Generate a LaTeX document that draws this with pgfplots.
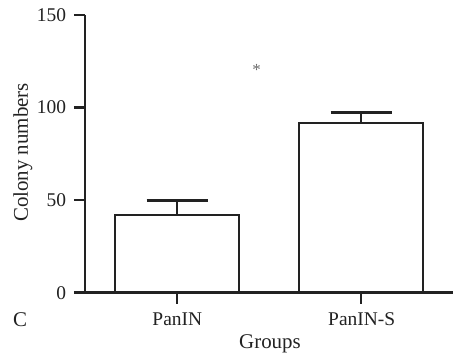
\documentclass[border=0pt]{standalone}
\usepackage{fontspec}
\setmainfont{Liberation Serif}
\usepackage{pgfplots}
\pgfplotsset{compat=1.18}
\definecolor{ink}{HTML}{222222}
\definecolor{star}{HTML}{6A6A6A}
\begin{document}
\begin{tikzpicture}[x=1bp,y=1bp]
\useasboundingbox (-85,-66.3) rectangle (373,292.7);
\begin{axis}[
  at={(0,0)}, anchor=south west,
  scale only axis, width=368bp, height=277.7bp,
  xmin=-0.5, xmax=1.5, ymin=0, ymax=150,
  axis lines*=left,
  axis line style={ink, line width=2.6bp},
  major tick style={ink, line width=2.6bp},
  major x tick style={ink, line width=2.6bp},
  major y tick style={ink, line width=2.6bp},
  tick align=outside, major tick length=11bp,
  xtick={0,1}, xticklabels={}, ytick={0,50,100,150},
  /pgf/number format/assume math mode=true,
  tick label style={font=\fontsize{19.5}{22}\selectfont, text=ink},
  yticklabel style={xshift=-4.5bp},
  clip=false,
]
\addplot[ybar, bar width=124bp, bar shift=0pt, draw=ink, fill=white, line width=2.5bp,
  error bars/.cd, y dir=plus, y explicit,
  error bar style={ink, line width=2.5bp},
  error mark options={ink, line width=2.5bp, mark size=30.5bp, rotate=90}]
  coordinates {(0,42) +- (0,7.8) (1,91.8) +- (0,5.5)};
\node[text=star, font=\fontsize{17}{17}\selectfont] at (axis cs:0.432,120.5) {*};
\end{axis}
\node[anchor=base, font=\fontsize{19.5}{22}\selectfont, text=ink] at (92.3,-32.3) {PanIN};
\node[anchor=base, font=\fontsize{19.5}{22}\selectfont, text=ink] at (276.7,-32.3) {PanIN-S};
\node[anchor=base, font=\fontsize{21}{24}\selectfont, text=ink] at (185,-55.3) {Groups};
\node[anchor=base, font=\fontsize{21}{24}\selectfont, text=ink] at (-65,-34) {C};
\node[anchor=base, rotate=90, font=\fontsize{21}{24}\selectfont, text=ink] at (-57,140.2) {Colony numbers};
\end{tikzpicture}
\end{document}
